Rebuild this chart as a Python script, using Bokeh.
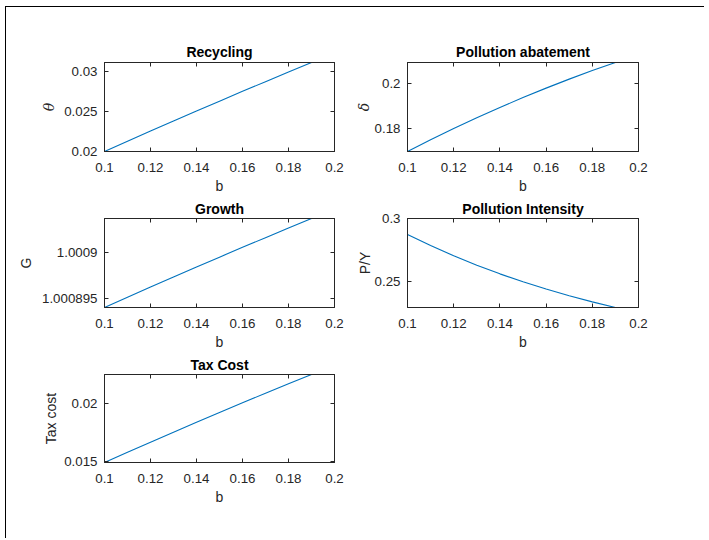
from bokeh.plotting import figure
from bokeh.layouts import column, row
from bokeh.models import Range1d, LinearAxis, FixedTicker, CustomJSTickFormatter
from bokeh.embed import file_html
from bokeh.resources import INLINE

# ---- data ----
b = [0.10, 0.11, 0.12, 0.13, 0.14, 0.15, 0.16, 0.17, 0.18, 0.19]
recycling = [0.02000, 0.02128, 0.02255, 0.02381, 0.02505, 0.02628, 0.02750, 0.02871, 0.02991, 0.03110]
abatement = [0.1699, 0.1751, 0.1801, 0.1849, 0.1895, 0.1939, 0.1981, 0.2021, 0.2059, 0.2095]
growth = [1.00089400, 1.00089512, 1.00089623, 1.00089733, 1.00089842, 1.00089950,
          1.00090057, 1.00090163, 1.00090268, 1.00090372]
intensity = [0.2872, 0.2784, 0.2703, 0.2628, 0.2559, 0.2496, 0.2438, 0.2385, 0.2336, 0.2291]
taxcost = [0.01490, 0.01579, 0.01667, 0.01754, 0.01840, 0.01925, 0.02009, 0.02092, 0.02174, 0.02255]

x_ticks = [0.10, 0.12, 0.14, 0.16, 0.18, 0.20]
recycling_ticks = [0.02, 0.025, 0.03]
abatement_ticks = [0.18, 0.20]
growth_ticks = [1.000895, 1.0009]
intensity_ticks = [0.25, 0.30]
taxcost_ticks = [0.015, 0.02]

FONT = "Liberation Sans"
AX = "#262626"
LINE = "#0072BD"

fmt_code = "return String(parseFloat(tick.toFixed(6)));"


def make(title, ylabel, y, yticks, ylo, yhi, width, height, bl, br, bt, bb,
         ylabel_italic=False, ylabel_standoff=8, title_standoff=3):
    p = figure(width=width, height=height, output_backend="svg", toolbar_location=None,
               x_range=Range1d(0.1, 0.2), y_range=Range1d(ylo, yhi),
               min_border_left=bl, min_border_right=br, min_border_top=bt, min_border_bottom=bb,
               x_axis_label="b", y_axis_label=ylabel)
    p.title.text = title
    p.title.align = "center"
    p.title.text_font = FONT
    p.title.text_font_size = "14px"
    p.title.text_font_style = "bold"
    p.title.text_color = "#000000"
    p.title.standoff = title_standoff
    p.grid.visible = False
    p.outline_line_color = AX
    p.outline_line_width = 1
    p.background_fill_color = "white"
    p.border_fill_color = "white"

    p.xaxis.ticker = FixedTicker(ticks=x_ticks)
    p.yaxis.ticker = FixedTicker(ticks=yticks)
    for ax in (p.xaxis[0], p.yaxis[0]):
        ax.formatter = CustomJSTickFormatter(code=fmt_code)
        ax.major_tick_in = 4
        ax.major_tick_out = 0
        ax.minor_tick_line_color = None
        ax.axis_line_color = AX
        ax.major_tick_line_color = AX
        ax.major_label_text_font = FONT
        ax.major_label_text_font_size = "13.3px"
        ax.major_label_text_color = AX
        ax.axis_label_text_font = FONT
        ax.axis_label_text_font_size = "14px"
        ax.axis_label_text_color = AX
        ax.axis_label_text_font_style = "normal"
    p.xaxis.major_label_standoff = 11
    p.yaxis.major_label_standoff = 7
    p.xaxis.axis_label_standoff = 3
    p.yaxis.axis_label_standoff = ylabel_standoff
    if ylabel_italic:
        p.yaxis.axis_label_text_font_style = "italic"
        p.yaxis.axis_label_text_font = "DejaVu Serif"

    for side, tk in (("above", x_ticks), ("right", yticks)):
        ax = LinearAxis(ticker=FixedTicker(ticks=tk),
                        formatter=CustomJSTickFormatter(code="return '';"),
                        major_tick_in=4, major_tick_out=0, minor_tick_line_color=None,
                        axis_line_color=AX, major_tick_line_color=AX,
                        major_label_standoff=0, major_label_text_font_size="0px")
        p.add_layout(ax, side)

    p.line(b, y, line_color=LINE, line_width=1.1)
    return p


BL1, BR1, BL2, BR2 = 98, 13, 60, 66
W1 = BL1 + 230 + BR1
W2 = BL2 + 231 + BR2
T1, T2, BB = 55, 21, 46
H1 = T1 + 89 + BB
H2 = T2 + 89 + BB
H3 = 185

p1 = make("Recycling", "θ", recycling, recycling_ticks, min(recycling), max(recycling),
          W1, H1, BL1, BR1, T1, BB, ylabel_italic=True, ylabel_standoff=4, title_standoff=5)
p2 = make("Pollution abatement", "δ", abatement, abatement_ticks, min(abatement), max(abatement),
          W2, H1, BL2, BR2, T1, BB, ylabel_italic=True, ylabel_standoff=0, title_standoff=5)
p3 = make("Growth", "G", growth, growth_ticks, min(growth), max(growth),
          W1, H2, BL1, BR1, T2, BB, ylabel_standoff=5)
p4 = make("Pollution Intensity", "P/Y", intensity, intensity_ticks, min(intensity), 0.3,
          W2, H2, BL2, BR2, T2, BB, ylabel_standoff=-1)
p5 = make("Tax Cost", "Tax cost", taxcost, taxcost_ticks, min(taxcost), max(taxcost),
          W1, H3, BL1, BR1, T2, H3 - T2 - 88, ylabel_standoff=2)

layout = column(row(p1, p2), row(p3, p4), row(p5),
                styles={"border-left": "1px solid black", "border-top": "1px solid black",
                        "margin-left": "5px", "margin-top": "6px"})

open("out.html", "w").write(file_html(layout, INLINE))
